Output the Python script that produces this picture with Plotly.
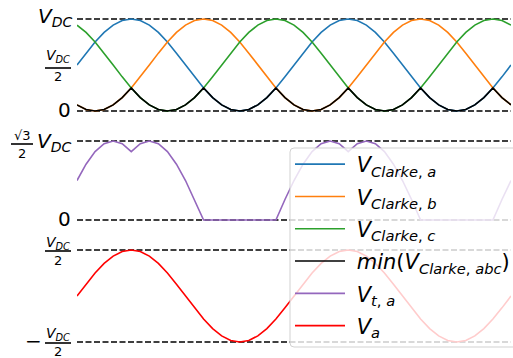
import plotly.graph_objects as go
from plotly.subplots import make_subplots

# Electrical angle in degrees (two fundamental periods)
angle_deg = [0, 15, 30, 45, 60, 75, 90, 105, 120, 135, 150, 165,
             180, 195, 210, 225, 240, 255, 270, 285, 300, 315, 330, 345,
             360, 375, 390, 405, 420, 435, 450, 465, 480, 495, 510, 525,
             540, 555, 570, 585, 600, 615, 630, 645, 660, 675, 690, 705, 720]

# Clarke phase voltages, per unit of V_DC
v_clarke_a = [0.500, 0.629, 0.750, 0.854, 0.933, 0.983, 1.000, 0.983, 0.933, 0.854, 0.750, 0.629,
              0.500, 0.371, 0.250, 0.146, 0.067, 0.017, 0.000, 0.017, 0.067, 0.146, 0.250, 0.371,
              0.500, 0.629, 0.750, 0.854, 0.933, 0.983, 1.000, 0.983, 0.933, 0.854, 0.750, 0.629,
              0.500, 0.371, 0.250, 0.146, 0.067, 0.017, 0.000, 0.017, 0.067, 0.146, 0.250, 0.371, 0.500]
v_clarke_b = [0.067, 0.017, 0.000, 0.017, 0.067, 0.146, 0.250, 0.371, 0.500, 0.629, 0.750, 0.854,
              0.933, 0.983, 1.000, 0.983, 0.933, 0.854, 0.750, 0.629, 0.500, 0.371, 0.250, 0.146,
              0.067, 0.017, 0.000, 0.017, 0.067, 0.146, 0.250, 0.371, 0.500, 0.629, 0.750, 0.854,
              0.933, 0.983, 1.000, 0.983, 0.933, 0.854, 0.750, 0.629, 0.500, 0.371, 0.250, 0.146, 0.067]
v_clarke_c = [0.933, 0.854, 0.750, 0.629, 0.500, 0.371, 0.250, 0.146, 0.067, 0.017, 0.000, 0.017,
              0.067, 0.146, 0.250, 0.371, 0.500, 0.629, 0.750, 0.854, 0.933, 0.983, 1.000, 0.983,
              0.933, 0.854, 0.750, 0.629, 0.500, 0.371, 0.250, 0.146, 0.067, 0.017, 0.000, 0.017,
              0.067, 0.146, 0.250, 0.371, 0.500, 0.629, 0.750, 0.854, 0.933, 0.983, 1.000, 0.983, 0.933]
v_clarke_min = [0.067, 0.017, 0.000, 0.017, 0.067, 0.146, 0.250, 0.146, 0.067, 0.017, 0.000, 0.017,
                0.067, 0.146, 0.250, 0.146, 0.067, 0.017, 0.000, 0.017, 0.067, 0.146, 0.250, 0.146,
                0.067, 0.017, 0.000, 0.017, 0.067, 0.146, 0.250, 0.146, 0.067, 0.017, 0.000, 0.017,
                0.067, 0.146, 0.250, 0.146, 0.067, 0.017, 0.000, 0.017, 0.067, 0.146, 0.250, 0.146, 0.067]
# Terminal voltage of phase a (clamped to the lowest rail)
v_t_a = [0.433, 0.612, 0.750, 0.837, 0.866, 0.837, 0.750, 0.837, 0.866, 0.837, 0.750, 0.612,
         0.433, 0.225, 0.000, 0.000, 0.000, 0.000, 0.000, 0.000, 0.000, 0.000, 0.000, 0.225,
         0.433, 0.612, 0.750, 0.837, 0.866, 0.837, 0.750, 0.837, 0.866, 0.837, 0.750, 0.612,
         0.433, 0.225, 0.000, 0.000, 0.000, 0.000, 0.000, 0.000, 0.000, 0.000, 0.000, 0.225, 0.433]
# Phase voltage of phase a
v_a = [0.000, 0.129, 0.250, 0.354, 0.433, 0.483, 0.500, 0.483, 0.433, 0.354, 0.250, 0.129,
       0.000, -0.129, -0.250, -0.354, -0.433, -0.483, -0.500, -0.483, -0.433, -0.354, -0.250, -0.129,
       0.000, 0.129, 0.250, 0.354, 0.433, 0.483, 0.500, 0.483, 0.433, 0.354, 0.250, 0.129,
       0.000, -0.129, -0.250, -0.354, -0.433, -0.483, -0.500, -0.483, -0.433, -0.354, -0.250, -0.129, 0.000]

# Reference levels per panel (per unit of V_DC)
levels_top = [1.0, 0.0]
levels_mid = [0.866, 0.0]
levels_bot = [0.5, -0.5]

NB = "\u00a0"
series = [
    (NB + "<i>V</i><sub><i>Clarke</i>, <i>a</i></sub>", v_clarke_a, "#1f77b4", 1),
    (NB + "<i>V</i><sub><i>Clarke</i>, <i>b</i></sub>", v_clarke_b, "#ff7f0e", 1),
    (NB + "<i>V</i><sub><i>Clarke</i>, <i>c</i></sub>", v_clarke_c, "#2ca02c", 1),
    (NB + "<i>min</i>(<i>V</i><sub><i>Clarke</i>, <i>abc</i></sub>)", v_clarke_min, "black", 1),
    (NB + "<i>V</i><sub><i>t</i>, <i>a</i></sub>", v_t_a, "#9467bd", 2),
    (NB + "<i>V</i><sub><i>a</i></sub>", v_a, "red", 3),
]

W, H = 513, 358
L_M, R_M = 77, 2
FONT = "DejaVu Sans"

fig = make_subplots(rows=3, cols=1, shared_xaxes=False, vertical_spacing=0.02)

for i, (name, vals, color, row) in enumerate(series):
    fig.add_trace(go.Scatter(x=angle_deg, y=vals, mode="lines", name=name,
                             legendgroup=f"g{i}",
                             line=dict(color=color, width=1.6)), row=row, col=1)


def px_axis(px_top, px_bot, v_hi, px_hi, v_lo, px_lo):
    """Domain (paper) and range so that v_hi sits at px_hi and v_lo at px_lo."""
    scale = (v_hi - v_lo) / (px_lo - px_hi)
    r_hi = v_hi + (px_hi - px_top) * scale
    r_lo = v_lo - (px_bot - px_lo) * scale
    return [1 - px_bot / H, 1 - px_top / H], [r_lo, r_hi]


dom1, rng1 = px_axis(12, 118, levels_top[0], 19, levels_top[1], 111)
dom2, rng2 = px_axis(134, 227, levels_mid[0], 141, levels_mid[1], 220)
dom3, rng3 = px_axis(243, 349, levels_bot[0], 250, levels_bot[1], 342)

for i, (dom, rng) in enumerate([(dom1, rng1), (dom2, rng2), (dom3, rng3)], start=1):
    fig.update_yaxes(domain=dom, range=rng, visible=False, row=i, col=1)
    fig.update_xaxes(range=[angle_deg[0], angle_deg[-1]], domain=[0, 1],
                     visible=False, row=i, col=1)

# Dashed reference lines at the panel limits
for xref, yref, levels in (("x domain", "y", levels_top), ("x2 domain", "y2", levels_mid),
                           ("x3 domain", "y3", levels_bot)):
    for lv in levels:
        fig.add_shape(type="line", xref=xref, x0=0, x1=1, yref=yref, y0=lv, y1=lv,
                      layer="below", line=dict(color="black", width=1.3, dash="6px,2.5px"))

annotations = []
shapes_extra = []


def label(yref, yv, text, size, xshift=-4, yshift=0, xanchor="right"):
    annotations.append(dict(xref="paper", x=0, xanchor=xanchor, xshift=xshift,
                            yref=yref, y=yv, yanchor="middle", yshift=yshift,
                            text=text, showarrow=False,
                            font=dict(family=FONT, size=size, color="black")))


def hbar(yref, yv, x0, x1, dy, width=1.6):
    shapes_extra.append(dict(type="line", xref="paper", xsizemode="pixel", xanchor=0,
                             x0=x0, x1=x1, yref=yref, ysizemode="pixel", yanchor=yv,
                             y0=dy, y1=dy, line=dict(color="black", width=width)))


def fraction(yref, yv, num, den, cx, half_w, bar_dy, num_dy, den_dy, size_num=14, size_den=13):
    # numerator, fraction bar, denominator centred at pixel offset cx from the axis start
    label(yref, yv, num, size_num, xshift=cx, yshift=num_dy, xanchor="center")
    label(yref, yv, den, size_den, xshift=cx, yshift=den_dy, xanchor="center")
    hbar(yref, yv, cx - half_w, cx + half_w, bar_dy)


VDC = "<i>V</i><sub><i>DC</i></sub>"

# top panel labels
label("y", levels_top[0], VDC, 20, xshift=-3, yshift=2)
fraction("y", 0.5, VDC, "2", cx=-19, half_w=13, bar_dy=-3, num_dy=9, den_dy=-12)
label("y", levels_top[1], "0", 20, xshift=-4, yshift=1)

# middle panel labels
label("y2", levels_mid[0], VDC, 20, xshift=-4, yshift=-1)
fraction("y2", levels_mid[0], "\u221a3", "2", cx=-55, half_w=11, bar_dy=-3, num_dy=6, den_dy=-12,
         size_num=13, size_den=13)
hbar("y2", levels_mid[0], -61, -49, 13, width=1.0)
label("y2", levels_mid[1], "0", 20, xshift=-4, yshift=1)

# bottom panel labels
fraction("y3", levels_bot[0], VDC, "2", cx=-19, half_w=13, bar_dy=-1, num_dy=7, den_dy=-10)
fraction("y3", levels_bot[1], VDC, "2", cx=-19, half_w=13, bar_dy=-1, num_dy=8, den_dy=-9)
label("y3", levels_bot[1], "\u2212", 20, xshift=-33, yshift=1)

for s in shapes_extra:
    fig.add_shape(**s)


# Translucent legend frame with rounded corners (drawn above the traces)
def px_to_paper(px, py):
    return (px - L_M) / (W - L_M - R_M), 1 - py / H


def rounded_rect(x0, y0, x1, y1, r):
    ax, ay = px_to_paper(x0 + r, y0)
    path = f"M{ax},{ay}"
    for (lx_, ly_), (cx, cy), (ex, ey) in [
        ((x1 - r, y0), (x1, y0), (x1, y0 + r)),
        ((x1, y1 - r), (x1, y1), (x1 - r, y1)),
        ((x0 + r, y1), (x0, y1), (x0, y1 - r)),
        ((x0, y0 + r), (x0, y0), (x0 + r, y0)),
    ]:
        a = px_to_paper(lx_, ly_)
        c = px_to_paper(cx, cy)
        e = px_to_paper(ex, ey)
        path += f" L{a[0]},{a[1]} Q{c[0]},{c[1]} {e[0]},{e[1]}"
    return path + " Z"


fig.add_shape(type="path", xref="paper", yref="paper", layer="above",
              path=rounded_rect(290, 148, 530, 347, 4),
              fillcolor="rgba(255,255,255,0.8)",
              line=dict(color="rgba(204,204,204,0.9)", width=1))

lx, ly = px_to_paper(290, 144)
fig.update_layout(
    width=W, height=H,
    margin=dict(l=L_M, r=R_M, t=0, b=0, pad=0, autoexpand=False),
    paper_bgcolor="white", plot_bgcolor="white",
    annotations=annotations,
    showlegend=True,
    legend=dict(x=lx, xanchor="left", y=ly, yanchor="top",
                bgcolor="rgba(0,0,0,0)", borderwidth=0,
                font=dict(family=FONT, size=21, color="black"),
                itemwidth=50, tracegroupgap=2, traceorder="grouped"),
    font=dict(family=FONT),
)

fig.write_html("out.html")
